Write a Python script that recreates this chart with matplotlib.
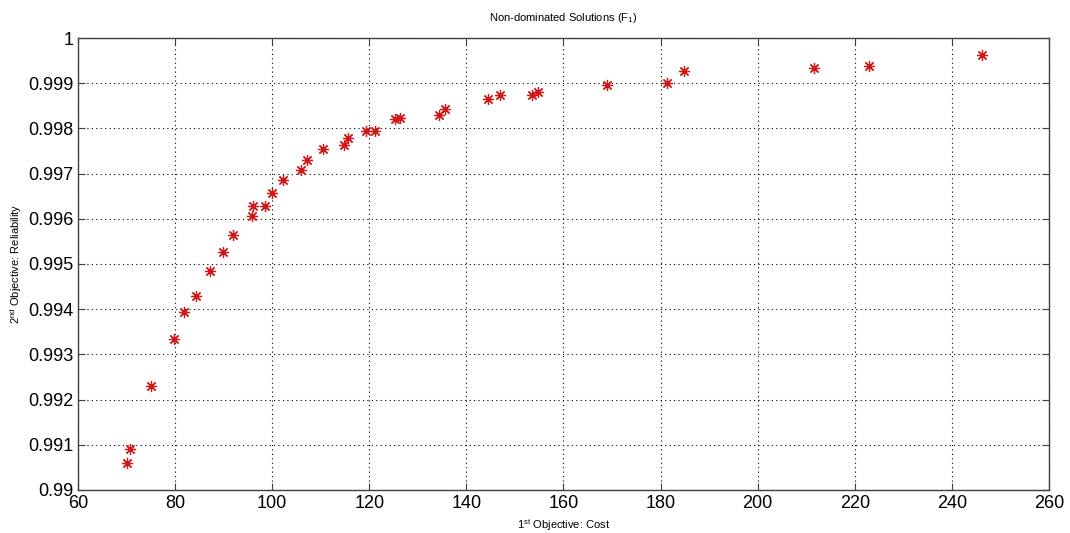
import matplotlib
matplotlib.use("Agg")
import matplotlib.pyplot as plt
from matplotlib.ticker import FuncFormatter

# Non-dominated solutions: cost vs reliability
cost = [70.0, 70.7, 75.1, 79.7, 81.9, 84.3, 87.1, 89.8, 91.9, 95.8,
        96.1, 98.6, 99.9, 102.2, 106.0, 107.2, 110.5, 114.8, 115.6, 119.4,
        121.1, 125.4, 126.4, 134.4, 135.7, 144.4, 146.9, 153.5, 154.8, 169.0,
        181.4, 184.9, 211.6, 222.9, 246.2]
reliability = [0.99060, 0.99091, 0.99230, 0.99334, 0.99394, 0.99430, 0.99485,
               0.99526, 0.99564, 0.99606, 0.99628, 0.99629, 0.99656, 0.99686,
               0.99708, 0.99730, 0.99754, 0.99763, 0.99779, 0.99795, 0.99795,
               0.99821, 0.99823, 0.99830, 0.99844, 0.99864, 0.99873, 0.99873,
               0.99880, 0.99896, 0.99901, 0.99928, 0.99933, 0.99939, 0.99962]

x_ticks = list(range(60, 261, 20))
y_ticks = [0.99, 0.991, 0.992, 0.993, 0.994, 0.995, 0.996, 0.997, 0.998, 0.999, 1.0]

plt.rcParams['font.family'] = ['Liberation Sans', 'DejaVu Sans']
plt.rcParams['mathtext.default'] = 'regular'

fig = plt.figure(figsize=(10.7, 5.33), dpi=100)
ax = fig.add_axes([0.0729, 0.0807, 0.9074, 0.848])

# matlab-style '*' marker: 8 spokes
ax.plot(cost, reliability, linestyle='none', marker=(8, 2, 0), color='#d01818',
        markersize=8, markeredgewidth=0.9)

ax.set_xlim(60, 260)
ax.set_ylim(0.99, 1.0)
ax.set_xticks(x_ticks)
ax.set_yticks(y_ticks)
ax.yaxis.set_major_formatter(FuncFormatter(lambda v, p: f"{v:.3f}".rstrip('0').rstrip('.')))

ax.grid(True, linestyle=(0, (1, 3)), color='black', linewidth=0.8)
ax.tick_params(direction='in', top=True, right=True, labelsize=13, length=5,
               color='#404040')
for s in ax.spines.values():
    s.set_color('#404040')
    s.set_linewidth(1.0)

ax.set_title("Non-dominated Solutions (F$_1$)", fontsize=8, pad=12)
ax.set_xlabel("1$^{st}$ Objective: Cost", fontsize=8, labelpad=4)
ax.set_ylabel("2$^{nd}$ Objective: Reliability", fontsize=8, labelpad=3)

fig.savefig("out.png", dpi=100)
